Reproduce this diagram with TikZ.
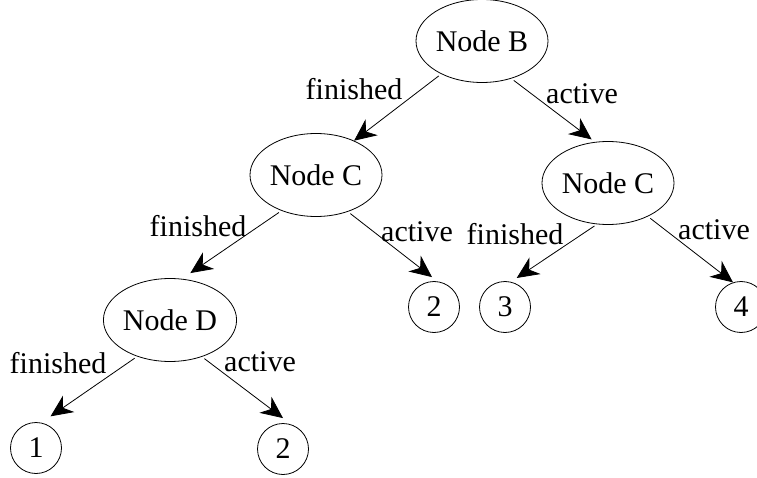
\documentclass[tikz,border=0pt]{standalone}
\usepackage{fontspec}
\setmainfont{Liberation Serif}
\usetikzlibrary{arrows.meta,shapes.geometric}
\begin{document}
\begin{tikzpicture}[x=1pt,y=-1pt,
  every node/.style={font=\fontsize{30}{36}\selectfont},
  state/.style={draw,ellipse,line width=0.8pt,inner sep=0pt,minimum width=132pt,minimum height=83pt},
  leaf/.style={draw,circle,line width=0.8pt,inner sep=0pt,minimum size=51pt},
  edge/.style={line width=0.8pt,shorten <=3pt,-{Stealth[length=22pt,width=20pt,inset=7pt]}},
  lbl/.style={inner sep=0pt}]
\useasboundingbox (0,0) rectangle (757,478);
% decision nodes
\node[state] (B)  at (482,41)  {Node B};
\node[state] (C1) at (316,175) {Node C};
\node[state] (C2) at (608,183) {Node C};
\node[state] (D)  at (170,320) {Node D};
% outcomes
\node[leaf] (L2a) at (434,307) {2};
\node[leaf] (L3)  at (505,307) {3};
\node[leaf] (L4)  at (741,307) {4};
\node[leaf] (L1)  at (36,448)  {1};
\node[leaf] (L2b) at (283,449) {2};
% transitions
\draw[edge] (B.219) -- (C1.42);
\draw[edge] (B.308) -- ([yshift=3pt]C2.112);
\draw[edge] (C1.226) -- ([yshift=7pt]D.63);
\draw[edge] (C1.311) -- ([xshift=-2pt,yshift=4pt]L2a.north);
\draw[edge] (C2.255) -- ([xshift=2pt,yshift=5pt]L3.68);
\draw[edge] (C2.320) -- (L4.108);
\draw[edge] (D.228) -- ([xshift=4pt,yshift=8pt]L1.66);
\draw[edge] (D.311) -- ([yshift=5pt]L2b.north);
% transition labels
\node[lbl] (t1) at (354,89)  {finished};
\node[lbl] (t2) at (582,94)  {active};
\node[lbl] (t3) at (198,226) {finished};
\node[lbl] (t4) at (417,232) {active};
\node[lbl] (t5) at (515,234) {finished};
\node[lbl] (t6) at (714,230) {active};
\node[lbl] (t7) at (58,363)  {finished};
\node[lbl] (t8) at (260,362) {active};
\end{tikzpicture}
\end{document}
